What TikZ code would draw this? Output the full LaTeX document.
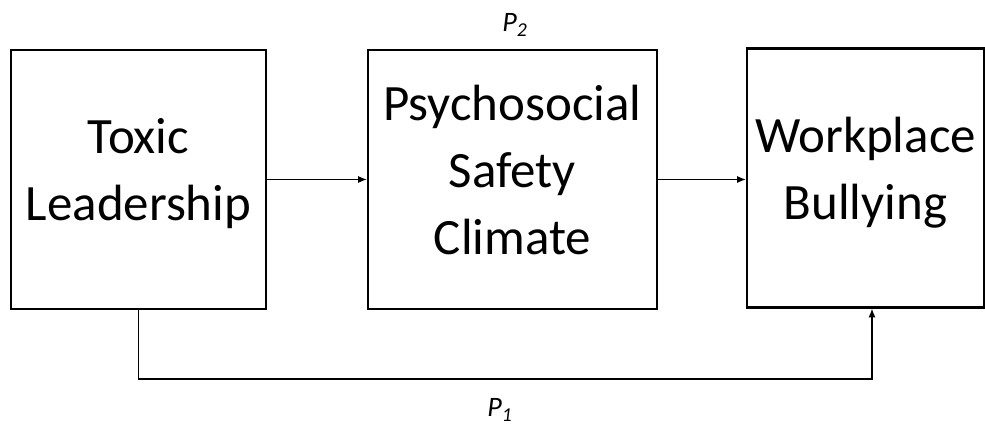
\documentclass[tikz,border=0pt]{standalone}
\usepackage{fontspec}
\setmainfont{Carlito}
\usepackage{tikz}
\usetikzlibrary{arrows.meta}
\usetikzlibrary{positioning}
\usetikzlibrary{calc}

\begin{document}
\begin{tikzpicture}[x=0.02cm, y=-0.02cm,
    varbox/.style={draw, line width=1.2pt, minimum height=259*0.02cm, align=center,
                   font=\fontsize{29}{38}\selectfont, inner sep=0pt,
                   execute at end node={\rule[-11pt]{0pt}{1pt}}},
    path arrow/.style={-{Latex[length=5pt, width=4pt]}, line width=0.8pt},
    plabel/.style={font=\fontsize{16}{18}\selectfont\itshape}]
            \useasboundingbox (0,0) rectangle (985,425);

            % 三个变量
            \node[varbox, minimum width=255*0.02cm] (toxic) at (138.5,179.5) {Toxic\\Leadership};
            \node[varbox, minimum width=289*0.02cm] (climate) at (512.5,179.5) {Psychosocial\\Safety\\Climate};
            \node[varbox, minimum width=237*0.02cm] (bully) at (865.5,178) {Workplace\\Bullying};

            % 路径
            \draw[path arrow] (toxic.east) -- (toxic.east -| climate.west);
            \draw[path arrow] (climate.east) -- (climate.east -| bully.west);
            \coordinate (turn) at (872,379);
            \draw[path arrow] (toxic.south) |- (turn) -- (turn |- bully.south);

            % 路径标签
            \node[plabel] (p2) at (515,25) {P\textsubscript{2}};
            \node[plabel] (p1) at (500,410) {P\textsubscript{1}};
        \end{tikzpicture}
\end{document}
